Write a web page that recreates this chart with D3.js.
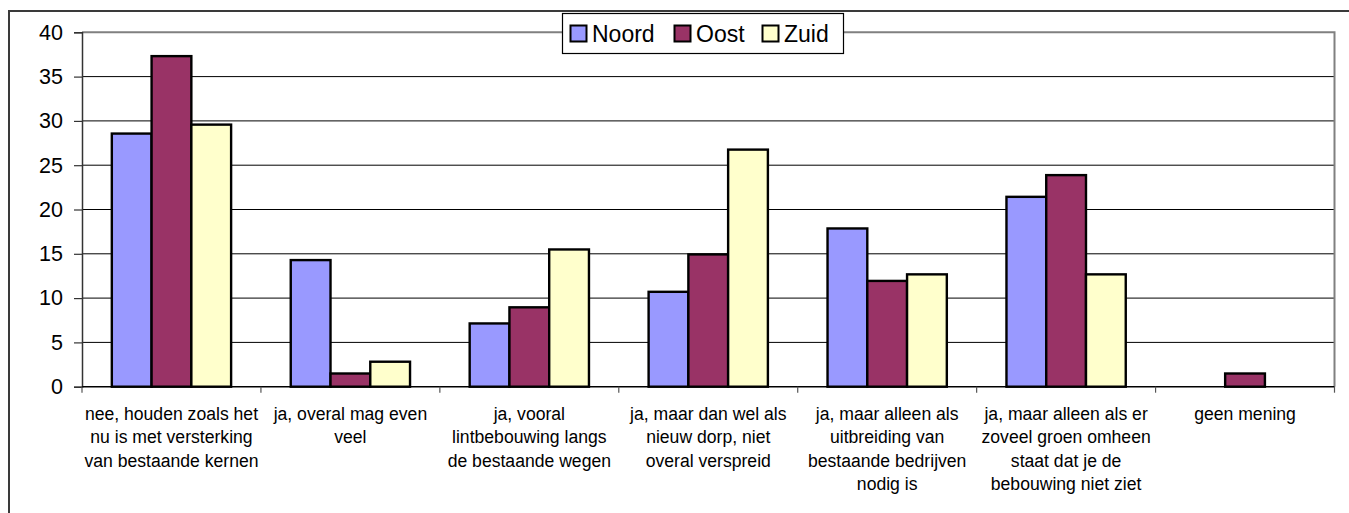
<!DOCTYPE html>
<html>
<head>
<meta charset="utf-8">
<script src="https://cdn.jsdelivr.net/npm/d3@7"></script>
<style>
  html, body { margin: 0; padding: 0; background: #fff; }
  svg { display: block; font-family: "Liberation Sans", Arial, sans-serif; }
</style>
</head>
<body>
<svg id="chart" width="1349" height="513"></svg>
<script>
// ---- data ----
const categories = [
  "nee, houden zoals het\nnu is met versterking\nvan bestaande kernen",
  "ja, overal mag even\nveel",
  "ja, vooral\nlintbebouwing langs\nde bestaande wegen",
  "ja, maar dan wel als\nnieuw dorp, niet\noveral verspreid",
  "ja, maar alleen als\nuitbreiding van\nbestaande bedrijven\nnodig is",
  "ja, maar alleen als er\nzoveel groen omheen\nstaat dat je de\nbebouwing niet ziet",
  "geen mening"
];
const seriesNames = ["Noord", "Oost", "Zuid"];
const noord = [28.57, 14.29, 7.14, 10.71, 17.86, 21.43, 0];
const oost  = [37.31, 1.49, 8.96, 14.93, 11.94, 23.88, 1.49];
const zuid  = [29.58, 2.82, 15.49, 26.76, 12.68, 12.68, 0];
const yTicks = [0, 5, 10, 15, 20, 25, 30, 35, 40];
const colors = ["#9999FF", "#993366", "#FFFFCC"];

const seriesValues = [noord, oost, zuid];

// ---- layout ----
const svg = d3.select("#chart");
const plot = { left: 82, right: 1334.5, top: 32.3, bottom: 386.7 };

// outer chart border
svg.append("rect")
  .attr("x", 9).attr("y", 11)
  .attr("width", 1400).attr("height", 600)
  .attr("fill", "none").attr("stroke", "#3a3a3a").attr("stroke-width", 2);

const x0 = d3.scaleBand()
  .domain(d3.range(categories.length))
  .range([plot.left, plot.right])
  .paddingInner(0).paddingOuter(0);

const bw = x0.bandwidth() / 4.5; // gap width 150%
const x1 = d3.scaleBand()
  .domain(d3.range(seriesNames.length))
  .range([0, bw * 3]);

const y = d3.scaleLinear().domain([0, 40]).range([plot.bottom, plot.top]);

// gridlines
svg.append("g").selectAll("line")
  .data(yTicks.filter(t => t > 0 && t < 40))
  .join("line")
  .attr("x1", plot.left).attr("x2", plot.right)
  .attr("y1", d => y(d)).attr("y2", d => y(d))
  .attr("stroke", "#000").attr("stroke-width", 1);

// plot border top & right (grey)
svg.append("path")
  .attr("d", `M${plot.left},${y(40)}H${plot.right}V${plot.bottom}`)
  .attr("fill", "none").attr("stroke", "#808080").attr("stroke-width", 2);

// bars
const groups = svg.append("g").selectAll("g")
  .data(categories.map((c, i) => i))
  .join("g")
  .attr("transform", i => `translate(${x0(i) + (x0.bandwidth() - bw * 3) / 2},0)`);

groups.selectAll("rect")
  .data(i => seriesValues.map((vals, s) => ({ s, v: vals[i] })).filter(d => d.v > 0))
  .join("rect")
  .attr("x", d => x1(d.s))
  .attr("width", x1.bandwidth())
  .attr("y", d => y(d.v))
  .attr("height", d => y(0) - y(d.v))
  .attr("fill", d => colors[d.s])
  .attr("stroke", "#000").attr("stroke-width", 2.4);

// y axis
const yAxis = d3.axisLeft(y).tickValues(yTicks).tickSize(8).tickPadding(11);
const gy = svg.append("g").attr("transform", `translate(${plot.left},0)`).call(yAxis);
gy.select(".domain").attr("stroke", "#333").attr("stroke-width", 1.5);
gy.selectAll(".tick line").attr("stroke", "#333").attr("stroke-width", 1.2);
gy.selectAll(".tick text")
  .attr("font-size", 21.5).attr("fill", "#000")
  .attr("font-family", "Liberation Sans, Arial, sans-serif");

// x axis line
svg.append("line")
  .attr("x1", plot.left).attr("x2", plot.right)
  .attr("y1", plot.bottom).attr("y2", plot.bottom)
  .attr("stroke", "#000").attr("stroke-width", 1.5);

// x ticks at category boundaries
const bounds = d3.range(categories.length + 1).map(i => plot.left + i * x0.bandwidth());
svg.append("g").selectAll("line")
  .data(bounds)
  .join("line")
  .attr("x1", d => d).attr("x2", d => d)
  .attr("y1", plot.bottom).attr("y2", plot.bottom + 6)
  .attr("stroke", "#555").attr("stroke-width", 1.2);

// x labels
const xl = svg.append("g").selectAll("text")
  .data(categories)
  .join("text")
  .attr("text-anchor", "middle")
  .attr("font-size", 17.6)
  .attr("fill", "#000")
  .attr("transform", (d, i) => `translate(${x0(i) + x0.bandwidth() / 2},420)`);
xl.selectAll("tspan")
  .data(d => d.split("\n"))
  .join("tspan")
  .attr("x", 0)
  .attr("y", (d, j) => j * 23.4)
  .text(d => d);

// legend
const lg = svg.append("g");
lg.append("rect")
  .attr("x", 562.5).attr("y", 13.5).attr("width", 281).attr("height", 40)
  .attr("fill", "#fff").attr("stroke", "#000").attr("stroke-width", 1.2);
const legendX = [570, 674, 762];
const li = lg.selectAll("g.item")
  .data(seriesNames)
  .join("g").attr("class", "item")
  .attr("transform", (d, i) => `translate(${legendX[i]},0)`);
li.append("rect")
  .attr("x", 0.5).attr("y", 25.5).attr("width", 16).attr("height", 16)
  .attr("fill", (d, i) => colors[i]).attr("stroke", "#000").attr("stroke-width", 2);
li.append("text")
  .attr("x", 22).attr("y", 41.5)
  .attr("font-size", 23).attr("fill", "#000")
  .text(d => d);
</script>
</body>
</html>
